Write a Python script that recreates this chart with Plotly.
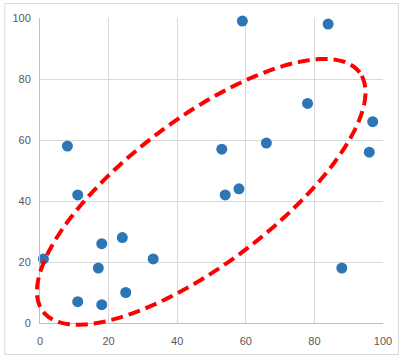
import numpy as np
import plotly.graph_objects as go

# data
x_vals = [1, 8, 11, 11, 18, 17, 18, 24, 25, 33, 53, 54, 58, 59, 66, 78, 84, 88, 96, 97]
y_vals = [21, 58, 42, 7, 26, 18, 6, 28, 10, 21, 57, 42, 44, 99, 59, 72, 98, 18, 56, 66]
tick_vals = [0, 20, 40, 60, 80, 100]

# highlight ellipse (data units): centre, major-axis vector, minor-axis vector
ell_center = (47.0, 43.0)
ell_major = (46.2, 39.1)
ell_minor = (-12.6, 19.2)

X_RANGE = [0, 100]
Y_RANGE = [0, 100]

t = np.linspace(0, 2 * np.pi, 241)
ex = ell_center[0] + np.cos(t) * ell_major[0] + np.sin(t) * ell_minor[0]
ey = ell_center[1] + np.cos(t) * ell_major[1] + np.sin(t) * ell_minor[1]
# convert to paper coordinates so the shape is not clipped by the plot area
px_ = (ex - X_RANGE[0]) / (X_RANGE[1] - X_RANGE[0])
py_ = (ey - Y_RANGE[0]) / (Y_RANGE[1] - Y_RANGE[0])
path = "M " + " L ".join(f"{a:.5f},{b:.5f}" for a, b in zip(px_, py_)) + " Z"

W, H = 404, 361
L, R, T, B = 40, 18, 18, 38
pw, ph = W - L - R, H - T - B

fig = go.Figure()
fig.add_trace(go.Scatter(
    x=x_vals, y=y_vals, mode="markers",
    marker=dict(size=11, color="#2E75B6", line=dict(width=0)),
    cliponaxis=False, hoverinfo="skip",
))

axis_common = dict(
    range=X_RANGE, tickvals=tick_vals, showgrid=True, gridcolor="#D9D9D9", gridwidth=1,
    showline=True, linecolor="#BFBFBF", linewidth=1, zeroline=False, ticks="",
    tickfont=dict(family="Liberation Sans", size=11, color="#595959"), fixedrange=True,
)
fig.update_xaxes(**axis_common, ticklabelstandoff=8)
fig.update_yaxes(**{**axis_common, "range": Y_RANGE}, ticklabelstandoff=6)

fig.update_layout(
    width=W, height=H, margin=dict(l=L, r=R, t=T, b=B),
    paper_bgcolor="white", plot_bgcolor="white", showlegend=False,
    shapes=[
        dict(type="rect", xref="paper", yref="paper",
             x0=(4.5 - L) / pw, x1=(401.5 - L) / pw,
             y0=(H - B - 354.5) / ph, y1=(H - B - 3.5) / ph,
             line=dict(color="#D9D9D9", width=1), fillcolor="rgba(0,0,0,0)", layer="above"),
        dict(type="path", xref="paper", yref="paper", path=path,
             line=dict(color="#FF0000", width=4, dash="12px,6px"), layer="above"),
    ],
)

fig.write_html("out.html", config={"displayModeBar": False},
               post_script="document.body.style.margin='0';document.body.style.overflow='hidden';")
